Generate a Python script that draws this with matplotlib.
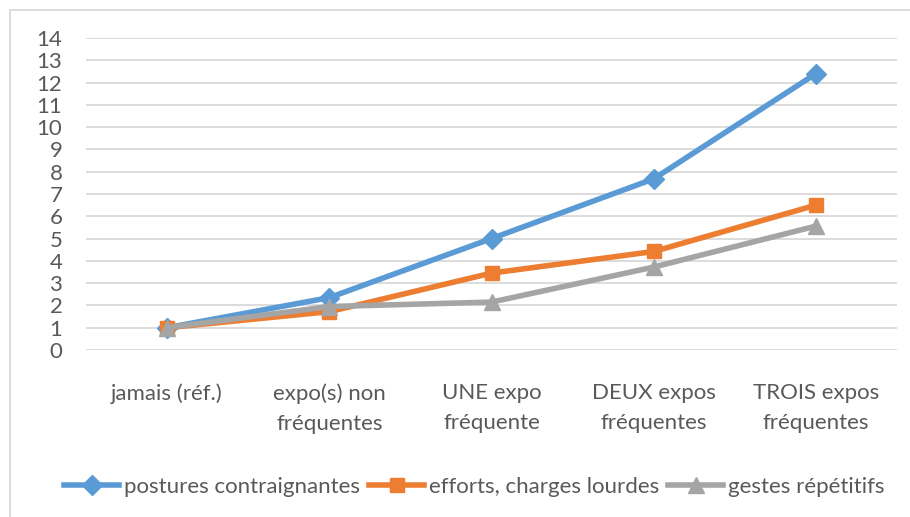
import matplotlib.pyplot as plt
from matplotlib.patches import Rectangle

categories = ["jamais (réf.)", "expo(s) non\nfréquentes", "UNE expo\nfréquente",
              "DEUX expos\nfréquentes", "TROIS expos\nfréquentes"]
postures = [1.0, 2.35, 5.0, 7.68, 12.4]
efforts = [1.0, 1.72, 3.45, 4.42, 6.5]
gestes = [1.0, 1.95, 2.15, 3.72, 5.56]
y_ticks = list(range(0, 15))

plt.rcParams['font.family'] = ['Lato', 'DejaVu Sans']
text_col = '#595959'
fs = 16

fig = plt.figure(figsize=(9.1, 5.17), dpi=100)
ax = fig.add_axes([86 / 910, 1 - 350 / 517, 811 / 910, 312 / 517])

x = range(len(categories))
ax.plot(x, postures, color='#5b9bd5', lw=4, marker='D', ms=10,
        label='postures contraignantes', zorder=3)
ax.plot(x, efforts, color='#ed7d31', lw=4, marker='s', ms=10,
        label='efforts, charges lourdes', zorder=4)
ax.plot(x, gestes, color='#a5a5a5', lw=4, marker='^', ms=12,
        label='gestes répétitifs', zorder=5)

ax.set_xlim(-0.5, len(categories) - 0.5)
ax.set_ylim(0, 14)
ax.set_yticks(y_ticks)
ax.set_xticks(list(x))
ax.set_xticklabels(categories, linespacing=1.6)
ax.tick_params(axis='both', length=0, labelsize=fs, colors=text_col)
ax.tick_params(axis='x', pad=24)
ax.tick_params(axis='y', pad=17)
ax.grid(axis='y', color='#d9d9d9', lw=1.3)
ax.set_axisbelow(True)
for s in ax.spines.values():
    s.set_visible(False)

leg = fig.legend(loc='center', bbox_to_anchor=(0.521, 1 - 487 / 517), ncol=3,
                 frameon=False, fontsize=fs, handlelength=2.5,
                 columnspacing=0.4, handletextpad=0.2)
for t in leg.get_texts():
    t.set_color(text_col)

fig.patches.append(Rectangle((10 / 910, -0.1), 1.2, 1 - 10 / 517 + 0.1,
                             transform=fig.transFigure, fill=False,
                             edgecolor='#d9d9d9', lw=1.3))

fig.savefig('out.png', dpi=100)
